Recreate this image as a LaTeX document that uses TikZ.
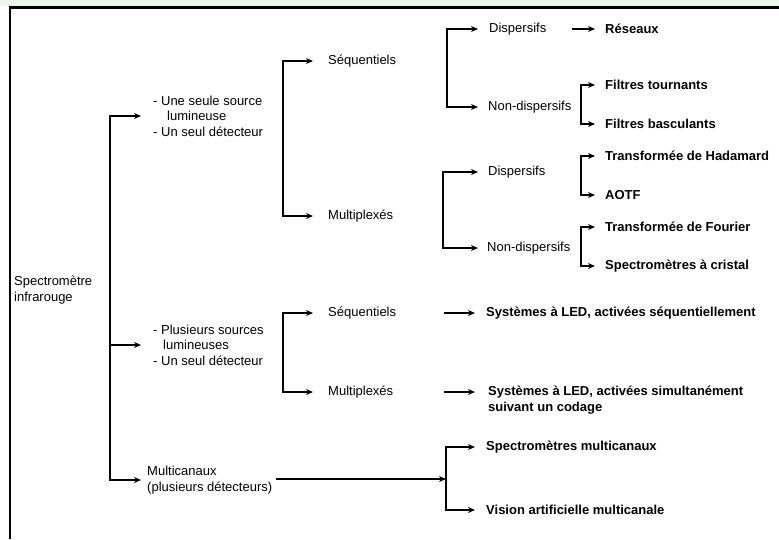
\documentclass[tikz,border=0pt]{standalone}
\usepackage{fontspec}
\setmainfont{Liberation Sans}
\usetikzlibrary{arrows.meta}
\definecolor{topgreen}{RGB}{237,246,236}
\begin{document}
\begin{tikzpicture}[x=1pt,y=-1pt,
  txt/.style={anchor=west,inner sep=0pt,font=\fontsize{13}{15.5}\selectfont,align=left},
  btxt/.style={anchor=west,inner sep=0pt,font=\fontsize{13}{16}\selectfont\bfseries,align=left},
  ln/.style={line width=1.6pt},
  arr/.style={ln,-{Stealth[length=7pt,width=6pt]}},
  br/.style={ln,{Stealth[length=7pt,width=6pt]}-{Stealth[length=7pt,width=6pt]}}]
\useasboundingbox (0,0) rectangle (779,539);
\fill[topgreen] (0,0) rectangle (779,6);
\draw[line width=2.5pt] (10,539) -- (10,7.5) -- (779,7.5);

% bus coordinates
\coordinate (b0) at (110,0);
\coordinate (b1) at (283,0);
\coordinate (b2) at (447,0);
\coordinate (b3) at (443,0);
\coordinate (b4) at (581,0);
\coordinate (b6) at (446,0);
\coordinate (r0) at (572,0);
\coordinate (l0) at (444,0);
\coordinate (l1) at (475,0);

% nodes
\node[txt] (root) at (14,290) {Spectromètre\\infrarouge};
\node[txt] (g1) at (153,116) {- Une seule source\\\hspace*{14pt}lumineuse\\- Un seul détecteur};
\node[txt] (g2) at (153,345) {- Plusieurs sources\\\hspace*{10pt}lumineuses\\- Un seul détecteur};
\node[txt] (g3) at (147,480) {Multicanaux\\(plusieurs détecteurs)};

\node[txt] (s1) at (328,61) {Séquentiels};
\node[txt] (m1) at (328,216) {Multiplexés};
\node[txt] (s2) at (328,313) {Séquentiels};
\node[txt] (m2) at (328,392) {Multiplexés};

\node[txt] (d1) at (489,29) {Dispersifs};
\node[txt] (nd1) at (488,107) {Non-dispersifs};
\node[txt] (d2) at (488,172) {Dispersifs};
\node[txt] (nd2) at (487,248) {Non-dispersifs};

\node[btxt] (res) at (605,29) {Réseaux};
\node[btxt] (ft) at (605,85) {Filtres tournants};
\node[btxt] (fb) at (605,124) {Filtres basculants};
\node[btxt] (th) at (605,156) {Transformée de Hadamard};
\node[btxt] (aotf) at (605,195) {AOTF};
\node[btxt] (tf) at (605,227) {Transformée de Fourier};
\node[btxt] (sc) at (605,266) {Spectromètres à cristal};

\node[btxt] (led1) at (486,313) {Systèmes à LED, activées séquentiellement};
\node[btxt] (led2) at (488,400) {Systèmes à LED, activées simultanément\\suivant un codage};
\node[btxt] (smc) at (486,447) {Spectromètres multicanaux};
\node[btxt] (vam) at (486,510) {Vision artificielle multicanale};

% connectors
\draw[br] ([xshift=-12pt]g1.west) -- (g1.west -| b0) -- (g3.west -| b0) -- ([xshift=-6pt]g3.west);
\draw[arr] (g2.west -| b0) -- ([xshift=-12pt]g2.west);

\draw[br] ([xshift=-15pt]s1.west) -- (s1.west -| b1) -- (m1.west -| b1) -- ([xshift=-15pt]m1.west);
\draw[br] ([xshift=-15pt]s2.west) -- (s2.west -| b1) -- (m2.west -| b1) -- ([xshift=-15pt]m2.west);

\draw[br] ([xshift=-11pt]d1.west) -- (d1.west -| b2) -- (nd1.west -| b2) -- ([xshift=-10pt]nd1.west);
\draw[br] ([xshift=-10pt]d2.west) -- (d2.west -| b3) -- (nd2.west -| b3) -- ([xshift=-9pt]nd2.west);

\draw[arr] (d1.west -| r0) -- ([xshift=-10pt]res.west);

\draw[br] ([xshift=-10pt]ft.west) -- (ft.west -| b4) -- (fb.west -| b4) -- ([xshift=-10pt]fb.west);
\draw[br] ([xshift=-10pt]th.west) -- (th.west -| b4) -- (aotf.west -| b4) -- ([xshift=-10pt]aotf.west);
\draw[br] ([xshift=-10pt]tf.west) -- (tf.west -| b4) -- (sc.west -| b4) -- ([xshift=-10pt]sc.west);

\draw[arr] (s2.west -| l0) -- ([xshift=-11pt]led1.west);
\draw[arr] (m2.west -| l0) -- (m2.west -| l1);

\draw[arr] ([xshift=4pt,yshift=1pt]g3.east) -- ([yshift=1pt]g3.east -| b6);
\draw[br] ([xshift=-11pt]smc.west) -- (smc.west -| b6) -- (vam.west -| b6) -- ([xshift=-11pt]vam.west);
\end{tikzpicture}
\end{document}
